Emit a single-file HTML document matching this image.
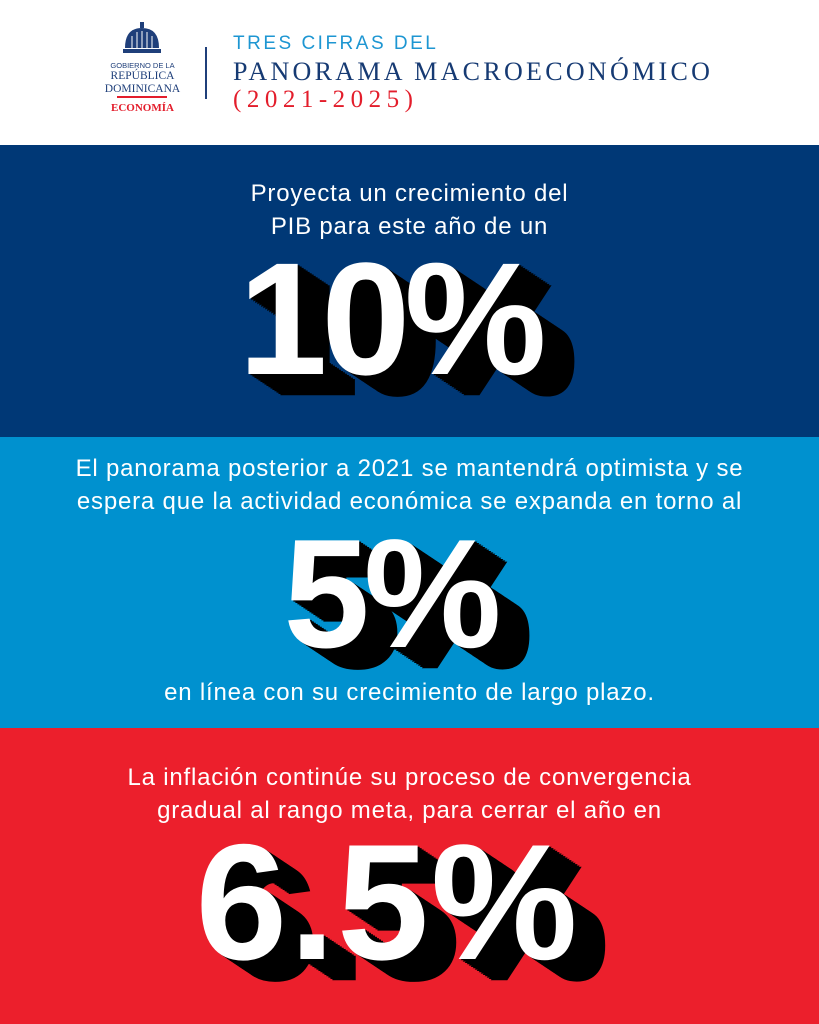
<!DOCTYPE html>
<html><head><meta charset="utf-8"><style>
body{margin:0;width:819px;height:1024px;overflow:hidden;font-family:"Liberation Sans",sans-serif;position:relative}
.sec{position:absolute;left:0;width:819px}
.t{position:absolute;left:0;width:819px;text-align:center;color:#fff;font-size:24px;line-height:33px;letter-spacing:0.8px}
.big{position:absolute;left:0;width:819px;text-align:center;color:#fff;font-weight:bold;letter-spacing:-6px;line-height:1;
text-shadow:2px 1.3px #000,4px 2.6px #000,6px 4px #000,8px 5.3px #000,10px 6.6px #000,12px 8px #000,14px 9.3px #000,16px 10.6px #000,18px 12px #000,20px 13.3px #000,22px 14.6px #000,24px 16px #000,26px 17.3px #000,28px 18.6px #000,30px 20px #000,32px 21.3px #000}
</style></head><body>
<div class="sec" style="top:0;height:145px;background:#fff">
  <svg style="position:absolute;left:122px;top:22px" width="40" height="36" viewBox="0 0 40 36">
    <rect x="18" y="0" width="4" height="6" fill="#1f3f7a"/>
    <path d="M3 26 Q3 6 20 6 Q37 6 37 26 Z" fill="#1f3f7a"/>
    <rect x="1" y="27" width="38" height="4" fill="#1f3f7a"/>
    <g stroke="#fff" stroke-width="1"><line x1="10" y1="14" x2="10" y2="26"/><line x1="15" y1="10" x2="15" y2="26"/><line x1="20" y1="9" x2="20" y2="26"/><line x1="25" y1="10" x2="25" y2="26"/><line x1="30" y1="14" x2="30" y2="26"/></g>
  </svg>
  <div style="position:absolute;left:100px;top:61px;width:85px;text-align:center;color:#1f3f7a;font-size:7.5px">GOBIERNO DE LA</div>
  <div style="position:absolute;left:95px;top:70px;width:95px;text-align:center;color:#1f3f7a;font-family:'Liberation Serif',serif;font-size:11.5px;line-height:13px">REPÚBLICA<br>DOMINICANA</div>
  <div style="position:absolute;left:117px;top:96px;width:50px;height:2px;background:#e31d2b"></div>
  <div style="position:absolute;left:95px;top:102px;width:95px;text-align:center;color:#e31d2b;font-family:'Liberation Serif',serif;font-size:11px;font-weight:bold">ECONOMÍA</div>
  <div style="position:absolute;left:205px;top:47px;width:2px;height:52px;background:#1f3f7a"></div>
  <div style="position:absolute;left:233px;top:33px;color:#1d96d2;font-size:19px;letter-spacing:2.5px">TRES CIFRAS DEL</div>
  <div style="position:absolute;left:233px;top:57px;color:#163a73;font-family:'Liberation Serif',serif;font-size:26px;letter-spacing:3.3px">PANORAMA MACROECONÓMICO</div>
  <div style="position:absolute;left:233px;top:86px;color:#e31d2b;font-family:'Liberation Serif',serif;font-size:25px;letter-spacing:5.5px">(2021-2025)</div>
</div>
<div class="sec" style="top:145px;height:292px;background:#003876">
  <div class="t" style="top:32px">Proyecta un crecimiento del<br>PIB para este año de un</div>
  <div class="big" style="top:94px;font-size:160px;margin-left:-20px">10%</div>
</div>
<div class="sec" style="top:437px;height:291px;background:#0091cf">
  <div class="t" style="top:15px">El panorama posterior a 2021 se mantendrá optimista y se<br>espera que la actividad económica se expanda en torno al</div>
  <div class="big" style="top:79px;font-size:155px;margin-left:-20px">5%</div>
  <div class="t" style="top:239px">en línea con su crecimiento de largo plazo.</div>
</div>
<div class="sec" style="top:728px;height:296px;background:#ec1f2c">
  <div class="t" style="top:33px">La inflación continúe su proceso de convergencia<br>gradual al rango meta, para cerrar el año en</div>
  <div class="big" style="top:92px;font-size:165px;margin-left:-22px;letter-spacing:2px">6.5%</div>
</div>
</body></html>
